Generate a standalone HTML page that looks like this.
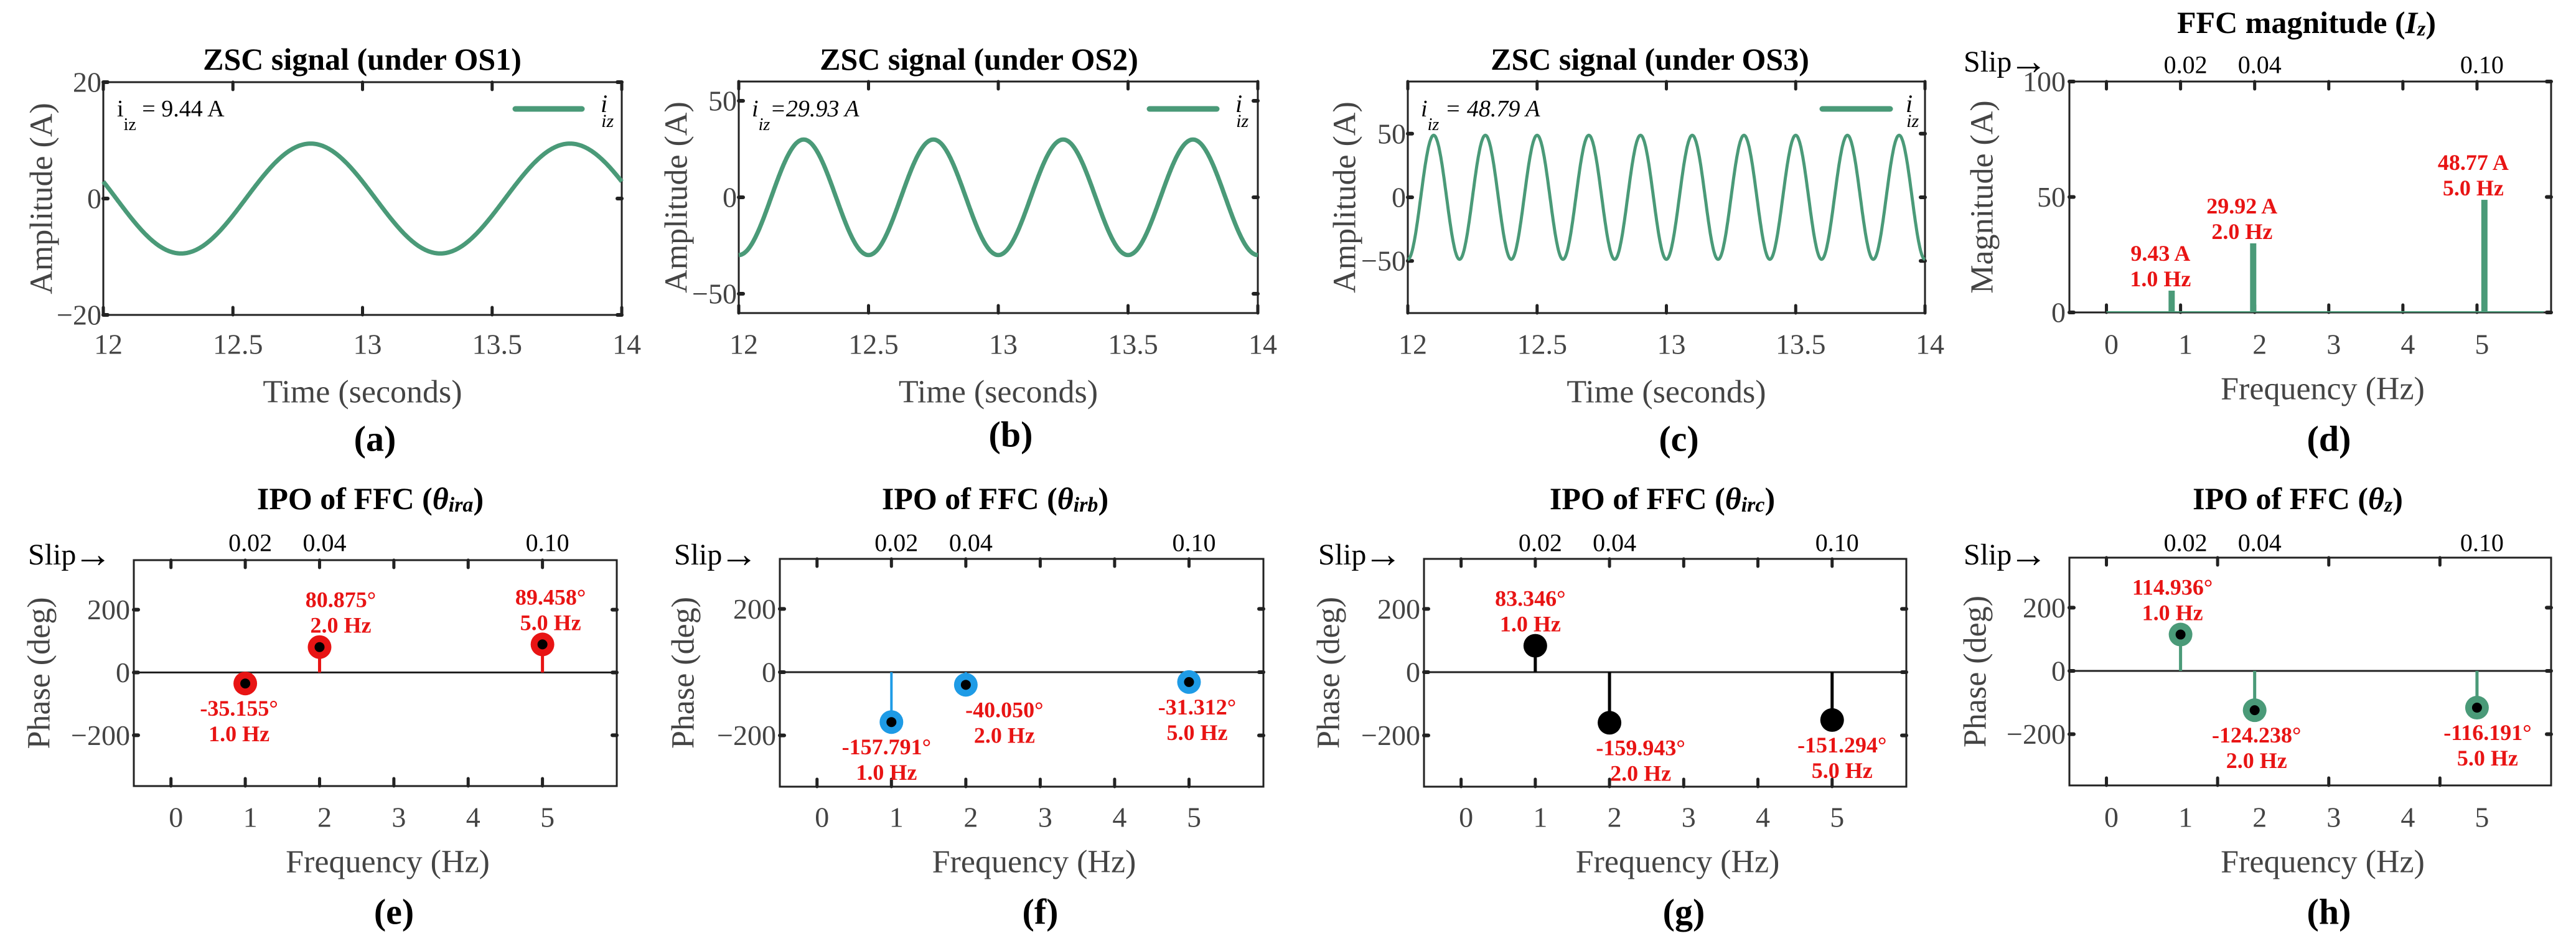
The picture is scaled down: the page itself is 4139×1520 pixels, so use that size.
<!DOCTYPE html>
<html><head><meta charset="utf-8"><style>
html,body{margin:0;padding:0;background:#fff;}
svg{display:block;font-family:"Liberation Serif",serif;}
</style></head><body>
<svg id="fig" width="4139" height="1520" viewBox="0 0 4139 1520" xmlns="http://www.w3.org/2000/svg"></svg>
<script>
// ---- data ----
const sigAmps = [9.44, 29.93, 48.79];
const sigFreqs = [1, 2, 5];
const sigPeakTimes = [12.8, 12.25, 12.1];
const sigLabels = ["9.44 A", "29.93 A", "48.79 A"];
const timeTicks = [12, 12.5, 13, 13.5, 14];
const timeTickLabels = ["12", "12.5", "13", "13.5", "14"];
const ampTicksA = [-20, 0, 20];
const ampTicksB = [-50, 0, 50];
const ampTicksC = [-50, 0, 50];
const magFreqs = [0.88, 1.98, 5.1];
const magValues = [9.43, 29.92, 48.77];
const magTicks = [0, 50, 100];
const freqTicks = [0, 1, 2, 3, 4, 5];
const freqTickLabels = ["0", "1", "2", "3", "4", "5"];
const slipFreqs = [1, 2, 5];
const slipLabels = ["0.02", "0.04", "0.10"];
const phaseFreqs = [1, 2, 5];
const phaseA = [-35.155, 80.875, 89.458];
const phaseB = [-157.791, -40.050, -31.312];
const phaseC = [83.346, -159.943, -151.294];
const phaseZ = [114.936, -124.238, -116.191];
const phaseTicks = [-200, 0, 200];

// ---- layout (not data) ----
const annDxE = [-10, 34, 13];
const annDxF = [-8, 62, 13];
const annDxG = [-8, 50, 16];
const annDxH = [-13, 3, 17];

const NS = "http://www.w3.org/2000/svg";
const svg = document.getElementById("fig");
const GREEN = "#4a9a78", RED = "#e81414", BLUE = "#1e9be6", GRAY = "#444", DARK = "#222";

function el(tag, attrs, parent) {
  const e = document.createElementNS(NS, tag);
  for (const k in attrs) e.setAttribute(k, attrs[k]);
  (parent || svg).appendChild(e);
  return e;
}
function txt(s, x, y, size, opts, parent) {
  opts = opts || {};
  const t = el("text", {x: x, y: y, "font-size": size, fill: opts.fill || "#000",
    "text-anchor": opts.anchor || "middle", "dominant-baseline": "central",
    "font-weight": opts.bold ? "bold" : "normal"}, parent);
  if (opts.italic) t.setAttribute("font-style", "italic");
  if (opts.rot) t.setAttribute("transform", "rotate(-90 " + x + " " + y + ")");
  t.textContent = s;
  return t;
}
function scale(d0, d1, r0, r1) { return v => r0 + (v - d0) / (d1 - d0) * (r1 - r0); }

function frame(g, b, xTickPx, yTickPx, zeroLine) {
  const r = el("rect", {x: b.x0, y: b.y0, width: b.x1 - b.x0, height: b.y1 - b.y0, fill: "none", stroke: DARK, "stroke-width": 3}, g);
  
  
  xTickPx.forEach(x => {
    [[b.y0, b.y0 + 12], [b.y1, b.y1 - 12]].forEach(p => {
      const l = el("line", {x1: x, x2: x, y1: p[0], y2: p[1], stroke: DARK, "stroke-width": 5, "stroke-linecap": "round"}, g);
      
      
    });
  });
  yTickPx.forEach(y => {
    [[b.x0, b.x0 + 7], [b.x1, b.x1 - 7]].forEach(p => {
      const l = el("line", {x1: p[0], x2: p[1], y1: y, y2: y, stroke: DARK, "stroke-width": 6, "stroke-linecap": "round"}, g);
      
      
    });
  });
  if (zeroLine !== undefined) {
    const z = el("line", {x1: b.x0, x2: b.x1, y1: zeroLine, y2: zeroLine, stroke: DARK, "stroke-width": 3}, g);
    
    
  }
}

function titleWithSub(g, main, sub, cx, cy, italicMain) {
  const t = el("text", {x: cx, y: cy, "font-size": 50, "font-weight": "bold", "text-anchor": "middle", "dominant-baseline": "central"}, g);
  
  
  const a = el("tspan", {}, t); a.textContent = main;
  const m = el("tspan", {"font-style": "italic"}, t); m.textContent = italicMain;
  const s = el("tspan", {"font-style": "italic", "font-size": 34, dy: 10}, t); s.textContent = sub;
  const c = el("tspan", {dy: -10}, t); c.textContent = ")";
}

// ---- time-series panels ----
const tsPanels = [
  {b: {x0: 166, x1: 999, y0: 132, y1: 506}, ylim: [-20, 20], yt: ampTicksA, title: "ZSC signal (under OS1)", tx: 582, lx: 67, letter: "(a)", letY: 705, lw: 7, leg: [828, 935, 965], ann: 188, annItalic: false, eq: " = "},
  {b: {x0: 1187, x1: 2021, y0: 131, y1: 503}, ylim: [-60, 60], yt: ampTicksB, title: "ZSC signal (under OS2)", tx: 1573, lx: 1087, letter: "(b)", letY: 698, lw: 7, leg: [1847, 1955, 1985], ann: 1208, annItalic: true, eq: "=" },
  {b: {x0: 2262, x1: 3093, y0: 131, y1: 503}, ylim: [-91, 91], yt: ampTicksC, title: "ZSC signal (under OS3)", tx: 2651, lx: 2161, letter: "(c)", letY: 705, lw: 5, leg: [2928, 3037, 3062], ann: 2283, annItalic: true, eq: " = "}
];
tsPanels.forEach((p, i) => {
  const g = el("g", {});
  
  
  const b = p.b;
  const X = scale(12, 14, b.x0, b.x1), Y = scale(p.ylim[0], p.ylim[1], b.y1, b.y0);
  frame(g, b, timeTicks.map(X), p.yt.map(Y));
  let d = "";
  for (let k = 0; k <= 800; k++) {
    const t = 12 + 2 * k / 800;
    const v = sigAmps[i] * Math.cos(2 * Math.PI * sigFreqs[i] * (t - sigPeakTimes[i]));
    d += (k ? "L" : "M") + X(t).toFixed(1) + " " + Y(v).toFixed(1);
  }
  const path = el("path", {d: d, fill: "none", stroke: GREEN, "stroke-width": p.lw, "stroke-linejoin": "round"}, g);
  
  
  timeTicks.forEach((t, k) => {
    const tl = txt(timeTickLabels[k], X(t) + 8, 553, 46, {fill: GRAY}, g);
    
    
  });
  p.yt.forEach(v => {
    const yl = txt(v < 0 ? "\u2212" + Math.abs(v) : String(v), b.x0 - 3, Y(v), 46, {fill: GRAY, anchor: "end"}, g);
    
    
  });
  const tt = txt(p.title, p.tx, 95, 50, {bold: true}, g);
  
  
  const xl = txt("Time (seconds)", (b.x0 + b.x1) / 2, 630, 52, {fill: GRAY}, g);
  
  
  const yl = txt("Amplitude (A)", p.lx, (b.y0 + b.y1) / 2, 52, {fill: GRAY, rot: true}, g);
  
  
  const lt = txt(p.letter, (b.x0 + b.x1) / 2 + 20, p.letY, 58, {bold: true}, g);
  
  
  const ll = el("line", {x1: p.leg[0], x2: p.leg[1], y1: 175, y2: 175, stroke: GREEN, "stroke-width": 9, "stroke-linecap": "round"}, g);
  
  
  const lg = el("text", {x: p.leg[2], y: 180, "font-size": 40, "font-style": "italic"}, g);
  
  
  const l1 = el("tspan", {}, lg); l1.textContent = "i";
  const l2 = el("tspan", {dy: 24, dx: -10, "font-size": 30}, lg); l2.textContent = "iz";
  const an = el("text", {x: p.ann, y: 187, "font-size": 38}, g);
  if (p.annItalic) an.setAttribute("font-style", "italic");
  
  
  const a1 = el("tspan", {}, an); a1.textContent = "i";
  const a2 = el("tspan", {dy: 22, "font-size": 28}, an); a2.textContent = "iz";
  const a3 = el("tspan", {dy: -22}, an); a3.textContent = p.eq + sigLabels[i];
});

// ---- slip axis helper ----
function slipAxis(g, X, b, slipY, tickY) {
  const s = el("text", {x: b.x0 - 170, y: slipY, "font-size": 48, "dominant-baseline": "central"}, g);
  
  
  const s1 = el("tspan", {}, s); s1.textContent = "Slip";
  const s2 = el("tspan", {"font-size": 62, dx: -4}, s); s2.textContent = "\u2192";
  slipFreqs.forEach((f, k) => {
    const t = txt(slipLabels[k], X(f) + 8, tickY, 40, {}, g);
    
    
  });
}
function freqLabels(g, X, y, b, letter, letY) {
  freqTicks.forEach((f, k) => {
    const t = txt(freqTickLabels[k], X(f) + 8, y, 46, {fill: GRAY}, g);
    
    
  });
  const xl = txt("Frequency (Hz)", (b.x0 + b.x1) / 2 + 20, y + 72, 52, {fill: GRAY}, g);
  
  
  const lt = txt(letter, (b.x0 + b.x1) / 2 + 30, letY, 58, {bold: true}, g);
  
  
}

// ---- magnitude panel (d) ----
(function () {
  const g = el("g", {});
  
  
  const b = {x0: 3325, x1: 4099, y0: 131, y1: 502};
  const X = scale(-0.5, 6, b.x0, b.x1), Y = scale(0, 100, b.y1, b.y0);
  frame(g, b, freqTicks.map(X), magTicks.map(Y));
  const base = el("line", {x1: X(0), x2: X(5.9), y1: Y(0) - 1, y2: Y(0) - 1, stroke: GREEN, "stroke-width": 2}, g);
  
  
  magFreqs.forEach((f, k) => {
    const r = el("rect", {x: X(f) - 5, y: Y(magValues[k]), width: 10, height: Y(0) - Y(magValues[k]), fill: GREEN}, g);
    
    
    const t1 = txt(magValues[k].toFixed(2) + " A", X(f) - 18, Y(magValues[k]) - 60, 36, {bold: true, fill: RED}, g);
    
    
    const t2 = txt(phaseFreqs[k].toFixed(1) + " Hz", X(f) - 18, Y(magValues[k]) - 19, 36, {bold: true, fill: RED}, g);
    
    
  });
  magTicks.forEach(v => {
    const t = txt(String(v), b.x0 - 6, Y(v), 46, {fill: GRAY, anchor: "end"}, g);
    
    
  });
  titleWithSub(g, "FFC magnitude (", "z", 3706, 36, "I");
  slipAxis(g, X, b, 99, 104);
  freqLabels(g, X, 553, b, "(d)", 705);
  const yl = txt("Magnitude (A)", 3185, (b.y0 + b.y1) / 2, 52, {fill: GRAY, rot: true}, g);
  
  
})();

// ---- phase panels ----
const phPanels = [
  {b: {x0: 215, x1: 991, y0: 900, y1: 1263}, vals: phaseA, color: RED, dot: true, sub: "ira", tx: 595, lx: 63, letter: "(e)", dx: annDxE, ticks: freqTicks},
  {b: {x0: 1253, x1: 2030, y0: 898, y1: 1264}, vals: phaseB, color: BLUE, dot: true, sub: "irb", tx: 1599, lx: 1098, letter: "(f)", dx: annDxF, ticks: freqTicks, thin: true},
  {b: {x0: 2288, x1: 3063, y0: 898, y1: 1264}, vals: phaseC, color: "#000", dot: false, sub: "irc", tx: 2671, lx: 2135, letter: "(g)", dx: annDxG, ticks: freqTicks},
  {b: {x0: 3325, x1: 4099, y0: 896, y1: 1262}, vals: phaseZ, color: GREEN, dot: true, sub: "z", tx: 3692, lx: 3174, letter: "(h)", dx: annDxH, ticks: [0, 1.5, 3, 4.5]}
];
phPanels.forEach((p, i) => {
  const g = el("g", {});
  
  
  const b = p.b;
  const X = scale(-0.5, 6, b.x0, b.x1), Y = scale(-362, 358, b.y1, b.y0);
  frame(g, b, p.ticks.map(X), phaseTicks.map(Y), Y(0));
  phaseFreqs.forEach((f, k) => {
    const v = p.vals[k];
    const st = el("line", {x1: X(f), x2: X(f), y1: Y(0), y2: Y(v), stroke: p.color, "stroke-width": p.thin ? 4 : 5}, g);
    
    
    const c = el("circle", {cx: X(f), cy: Y(v), r: 19, fill: p.color}, g);
    
    
    if (p.dot) {
      const d = el("circle", {cx: X(f), cy: Y(v), r: 8, fill: "#000"}, g);
      
      
    }
    const up = v >= 0;
    const y1 = up ? Y(v) - 76 : Y(v) + 40, y2 = up ? Y(v) - 35 : Y(v) + 81;
    const t1 = txt(v.toFixed(3) + "\u00b0", X(f) + p.dx[k], y1, 36, {bold: true, fill: RED}, g);
    
    
    const t2 = txt(f.toFixed(1) + " Hz", X(f) + p.dx[k], y2, 36, {bold: true, fill: RED}, g);
    
    
  });
  phaseTicks.forEach(v => {
    const t = txt(v < 0 ? "\u2212" + Math.abs(v) : String(v), b.x0 - 6, Y(v), 46, {fill: GRAY, anchor: "end"}, g);
    
    
  });
  titleWithSub(g, "IPO of FFC (", p.sub, p.tx, 801, "\u03b8");
  slipAxis(g, X, b, 891, 872);
  freqLabels(g, X, 1313, b, p.letter, 1465);
  const yl = txt("Phase (deg)", p.lx, (b.y0 + b.y1) / 2, 52, {fill: GRAY, rot: true}, g);
  
  
});
</script>
</body></html>
